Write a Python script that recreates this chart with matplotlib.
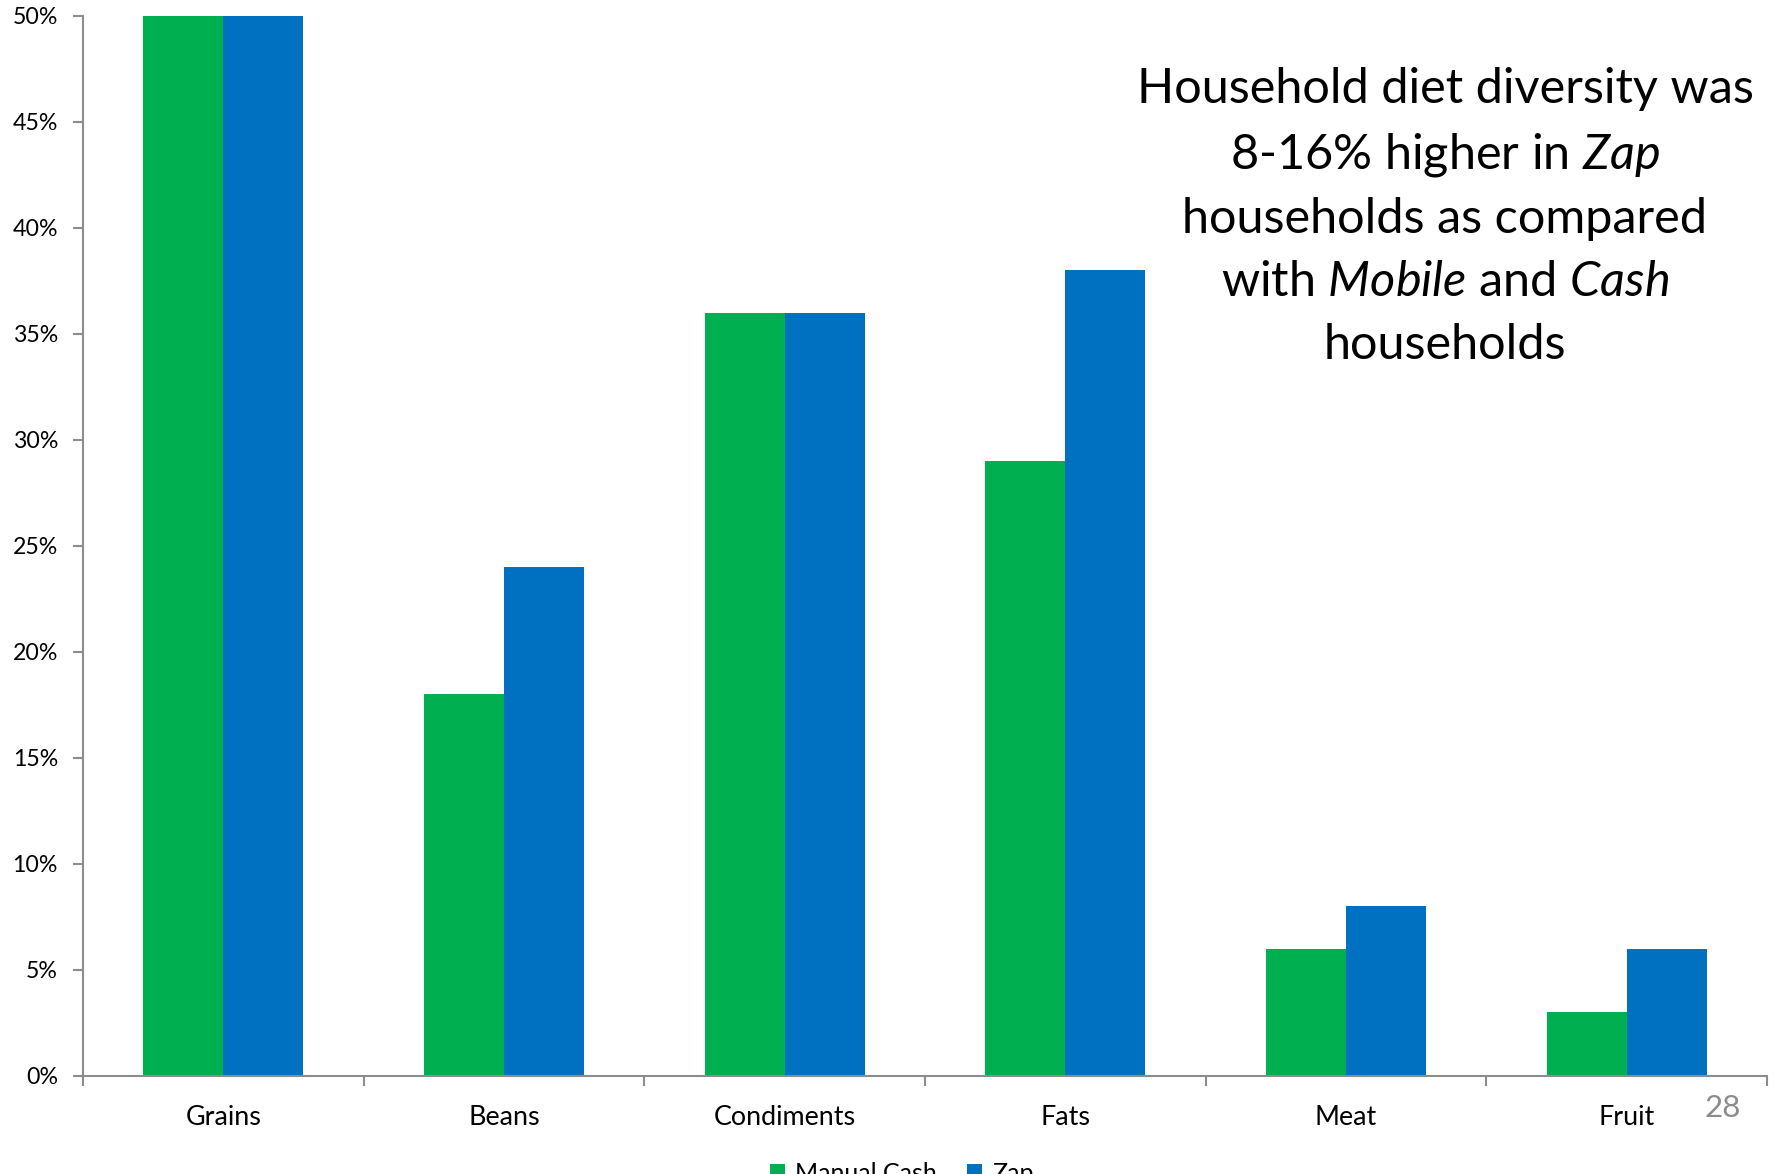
import matplotlib.pyplot as plt
import numpy as np

plt.rcParams["font.family"] = ["Lato", "DejaVu Sans"]
plt.rcParams["mathtext.fontset"] = "custom"
plt.rcParams["mathtext.rm"] = "Lato"
plt.rcParams["mathtext.it"] = "Lato:italic"

CATEGORIES = ["Grains", "Beans", "Condiments", "Fats", "Meat", "Fruit"]
MANUAL_CASH = [50, 18, 36, 29, 6, 3]
ZAP = [50, 24, 36, 38, 8, 6]
Y_TICKS = [0, 5, 10, 15, 20, 25, 30, 35, 40, 45, 50]

GREEN = "#00B050"
BLUE = "#0070C0"
AXIS_GREY = "#8C8C8C"

fig = plt.figure(figsize=(17.77, 11.74), dpi=100)
ax = fig.add_axes([83 / 1777, 1 - 1076 / 1174, (1767 - 83) / 1777, (1076 - 16) / 1174])

x = np.arange(len(CATEGORIES))
w = 0.285
ax.bar(x - w / 2, MANUAL_CASH, width=w, color=GREEN, label="Manual Cash")
ax.bar(x + w / 2, ZAP, width=w, color=BLUE, label="Zap")

ax.set_xlim(-0.5, len(CATEGORIES) - 0.5)
ax.set_ylim(0, 50)
ax.set_yticks(Y_TICKS)
ax.set_yticklabels([f"{v}%" for v in Y_TICKS], fontsize=16.7)

ax.set_xticks(x)
ax.set_xticklabels(CATEGORIES, fontsize=19.4)
ax.set_xticks(np.arange(len(CATEGORIES) + 1) - 0.5, minor=True)
ax.tick_params(axis="x", which="major", length=0, pad=21)
ax.tick_params(axis="x", which="minor", length=7, color=AXIS_GREY, width=1.5)
ax.tick_params(axis="y", length=7, color=AXIS_GREY, width=1.5, pad=11)

for side in ["top", "right"]:
    ax.spines[side].set_visible(False)
for side in ["left", "bottom"]:
    ax.spines[side].set_color(AXIS_GREY)
    ax.spines[side].set_linewidth(1.5)

note = ("Household diet diversity was\n"
        "8-16% higher in $\\mathit{Zap}$\n"
        "households as compared\n"
        "with $\\mathit{Mobile}$ and $\\mathit{Cash}$\n"
        "households")
fig.text(1445 / 1777, 1 - 217 / 1174, note, ha="center", va="center",
         fontsize=35, linespacing=1.52)

fig.text(1723 / 1777, 1 - 1108 / 1174, "28", ha="center", va="center",
         fontsize=22.5, color="#8C8C8C")

fig.legend(loc="upper center", bbox_to_anchor=(902 / 1777, 1 - 1162 / 1174),
           ncol=2, frameon=False, fontsize=18, handlelength=0.6,
           handleheight=0.6, handletextpad=0.4, columnspacing=1.2,
           borderaxespad=0, borderpad=0)

fig.savefig("out.png", dpi=100)
